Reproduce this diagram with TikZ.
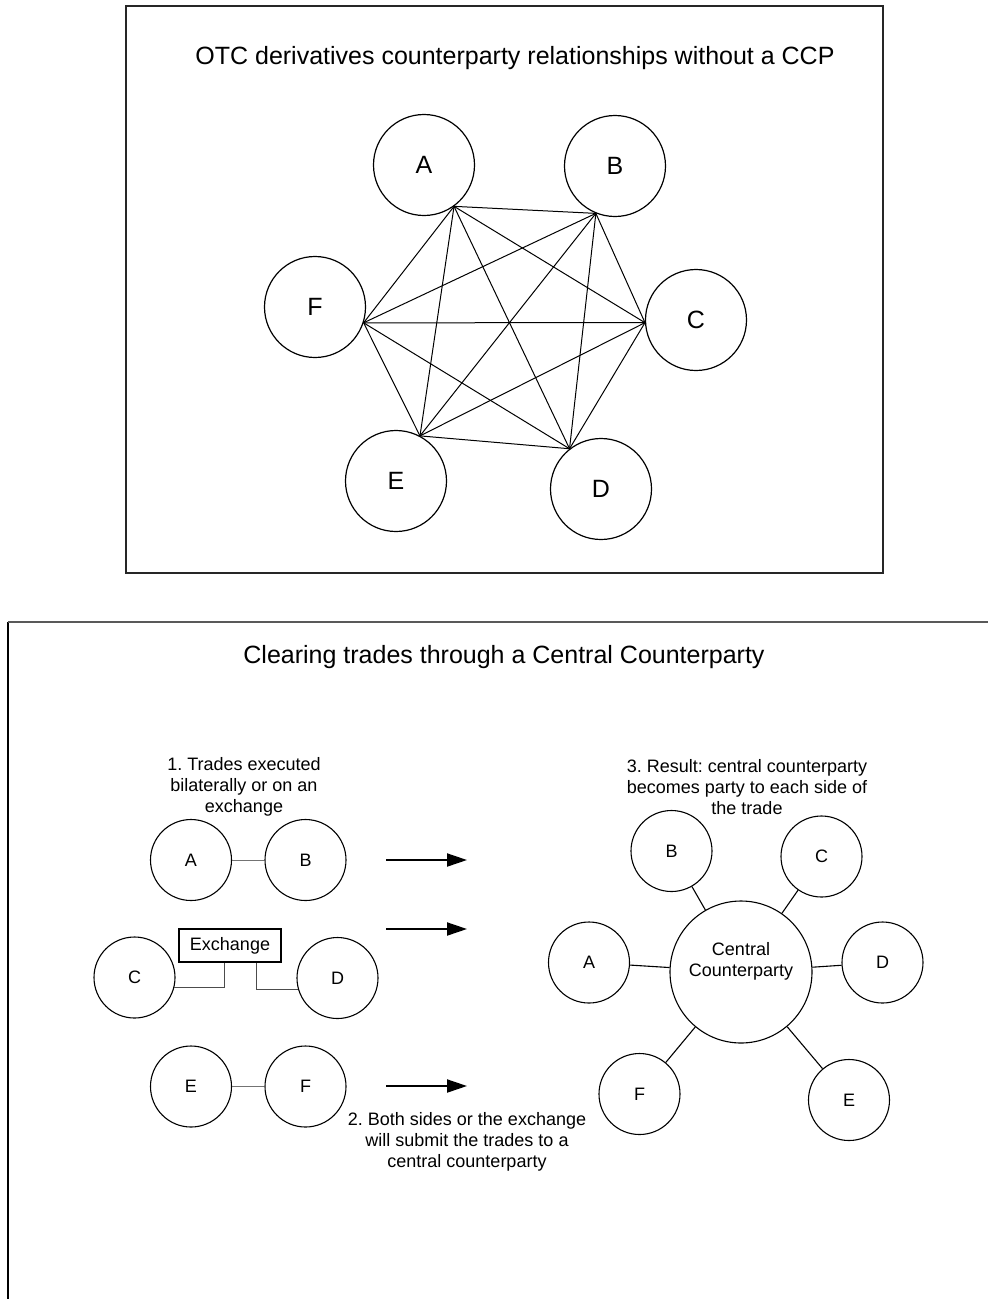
\documentclass[tikz,border=0pt]{standalone}
\usepackage{fontspec}
\setmainfont{Liberation Sans}
\usepackage{tikz}
\usetikzlibrary{arrows.meta,calc}
\frenchspacing

\begin{document}
\begin{tikzpicture}[x=1pt,y=-1pt,
  party/.style={draw,circle,line width=1.2pt,minimum size=101pt,inner sep=0pt,font=\fontsize{25}{30}\selectfont},
  small/.style={draw,circle,line width=1.1pt,minimum size=81pt,inner sep=0pt,font=\fontsize{18}{21}\selectfont},
  note/.style={align=center,font=\fontsize{18}{21}\selectfont},
  big/.style={font=\fontsize{25}{30}\selectfont},
  exbox/.style={draw,line width=2pt,minimum width=102pt,minimum height=33pt,inner sep=0pt,font=\fontsize{18}{21}\selectfont},
  link/.style={line width=1pt},
  go/.style={line width=2pt,-{Triangle[length=20pt,width=13pt]}}]

\useasboundingbox (0,0) rectangle (988,1299);

% upper panel
\draw[line width=1.5pt,black!85] (126,6) rectangle (883,573);
\node[big,anchor=base] (top) at (515,64) {OTC derivatives counterparty relationships without a CCP};

\node[party] (A) at (424,165) {A};
\node[party] (B) at (615,166) {B};
\node[party] (C) at (696,320) {C};
\node[party] (D) at (601,489) {D};
\node[party] (E) at (396,481) {E};
\node[party] (F) at (315,307) {F};

\coordinate (kA) at (A.-54);
\coordinate (kB) at (B.-112);
\coordinate (kC) at (C.183);
\coordinate (kD) at (D.128);
\coordinate (kE) at (E.62);
\coordinate (kF) at (F.-18);
\foreach \u/\v in {A/B,A/C,A/D,A/E,A/F,B/C,B/D,B/E,B/F,C/D,C/E,C/F,D/E,D/F,E/F}
  \draw[link] (k\u) -- (k\v);

% lower panel
\draw[line width=1.3pt] (8,1299) -- (8,622);
\draw[line width=1.5pt,black!65] (8,622) -- (988,622);
\node[big,anchor=base] (bottom) at (504,663) {Clearing trades through a Central Counterparty};

% step 1
\node[note] (step1) at (244,787) {1. Trades executed\\bilaterally or on an\\exchange};
\node[small] (lA) at (191,860) {A};
\node[small] (lB) at (305.5,860) {B};
\draw[black!55] (lA) -- (lB);

\node[exbox] (ex) at (230,945.5) {Exchange};
\node[small] (lC) at (134.5,977.5) {C};
\node[small] (lD) at (337.5,978) {D};
\draw[black!70] ([xshift=-6pt]ex.south) |- (lC.-14);
\draw[black!70] ([xshift=26pt]ex.south) |- (lD.196);

\node[small] (lE) at (191,1086.5) {E};
\node[small] (lF) at (305.5,1086.5) {F};
\draw[black!55] (lE) -- (lF);

% step 2
\coordinate (s1) at (386,860);  \coordinate (t1) at (467,860);
\coordinate (s2) at (386,929);  \coordinate (t2) at (467,929);
\coordinate (s3) at (386,1086); \coordinate (t3) at (467,1086);
\draw[go] (s1) -- (t1);
\draw[go] (s2) -- (t2);
\draw[go] (s3) -- (t3);
\node[note] (step2) at (467,1142) {2. Both sides or the exchange\\will submit the trades to a\\central counterparty};

% step 3
\node[note] (step3) at (747,787) {3. Result: central counterparty\\becomes party to each side of\\the trade};
\node[small,minimum size=142pt] (cc) at (741,972) {};
\node[note] (ccp) at (741,961) {Central\\Counterparty};
\node[small] (rA) at (589,962.5) {A};
\node[small] (rB) at (671.5,851) {B};
\node[small] (rC) at (821.5,856.5) {C};
\node[small] (rD) at (882.5,962.5) {D};
\node[small] (rE) at (849,1100) {E};
\node[small] (rF) at (639.5,1094) {F};
\foreach \s in {rA,rB,rC,rD,rE,rF}
  \draw[line width=1.1pt] (\s) -- (cc);

\end{tikzpicture}
\end{document}
